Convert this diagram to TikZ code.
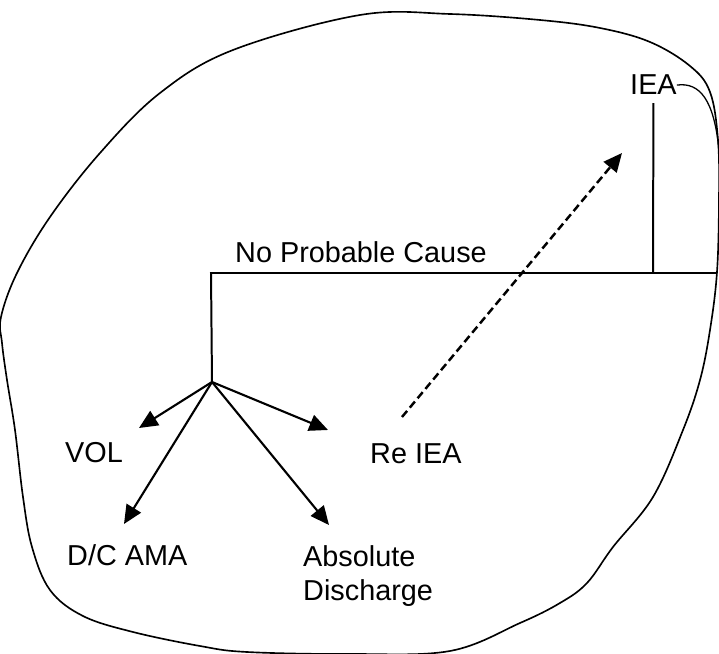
\documentclass[tikz,border=0pt]{standalone}
\usepackage{fontspec}
\setmainfont{Liberation Sans}
\usetikzlibrary{arrows.meta}
\tikzset{>={Triangle[length=5.6mm,width=5mm]},
  lbl/.style={anchor=base west,inner sep=0pt,font=\fontsize{24.6}{28.5}\selectfont},
  ln/.style={line width=1.7pt},
  branch/.style={line width=1.8pt,->}}

\begin{document}
\begin{tikzpicture}[x=0.03cm,y=-0.03cm]
    \useasboundingbox (0,0) rectangle (719,654);

    % outline
    \draw[line width=1.4pt] plot[smooth cycle,tension=0.6] coordinates {
      (360,15) (450,14) (540,20) (600,28) (650,42) (690,66) (710,92) (718,140)
      (719,200) (717,272) (710,330) (700,380) (683,430) (653,497) (613,547)
      (587,583) (560,603) (520,623) (450,651) (350,654) (247,652) (200,646)
      (133,632) (83,616) (50,590) (32,547) (23,497) (15,430) (7,380) (2,343)
      (1,317) (17,273) (50,217) (100,153) (160,93) (233,50)};

    % labels
    \node[lbl] at (235,263) (nocause) {No Probable Cause};
    \node[lbl] at (630,95)  (iea)     {IEA};
    \node[lbl] at (65,463)  (vol)     {VOL};
    \node[lbl] at (370,464) (reiea)   {Re IEA};
    \node[lbl] at (67,566)  (dcama)   {D/C AMA};
    \node[lbl,align=left] at (303,600) (absdis) {Absolute\\Discharge};

    \coordinate (corner) at (211,273);
    \coordinate (rend)   at (717,273);
    \coordinate (ieajoin) at (653,273);
    \coordinate (split)  at (212,382);
    \coordinate (voltip) at (139,428);
    \coordinate (dctip)  at (124,524);
    \coordinate (retip)  at (328,430);
    \coordinate (abstip) at (329,525);
    \coordinate (dashst) at (402,417);
    \coordinate (dashtip) at (622,153);
    \coordinate (ieaend) at (719,150);

    \draw[ln] (rend) -- (corner) -- (split);
    \draw[ln,shorten <=0.24cm] (iea.south) -- (ieajoin);
    \draw[line width=1.1pt] (iea.east) .. controls (700,82) and (714,100) .. (ieaend);

    \draw[branch] (split) -- (voltip);
    \draw[branch] (split) -- (dctip);
    \draw[branch] (split) -- (retip);
    \draw[branch] (split) -- (abstip);

    \draw[line width=2.1pt,->,dash pattern=on 6.8pt off 3.6pt] (dashst) -- (dashtip);
\end{tikzpicture}
\end{document}
